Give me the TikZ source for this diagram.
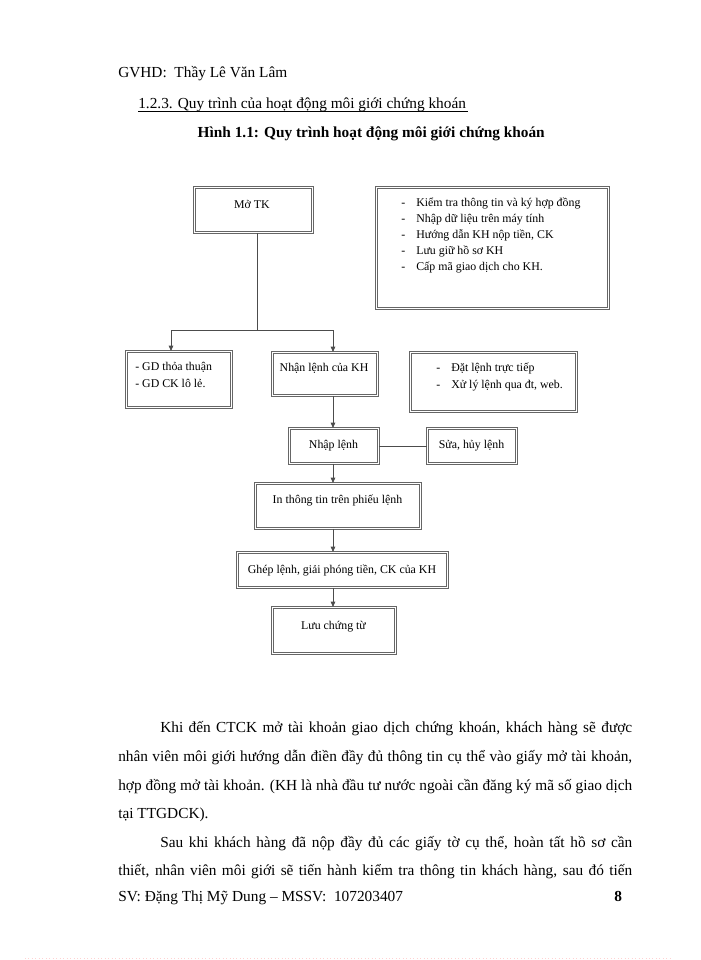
\documentclass[tikz,border=0pt]{standalone}
\usepackage{fontspec}
\setmainfont{Liberation Serif}
\usetikzlibrary{arrows.meta}
\begin{document}
\begin{tikzpicture}[x=0.75pt,y=-0.75pt,
  box/.style={draw=black!60, line width=0.7pt, double=white, double distance=1pt, rectangle, inner sep=0pt, anchor=north west},
  bt/.style={font=\fontsize{8.9}{10}\selectfont, inner sep=0pt, anchor=base},
  btl/.style={font=\fontsize{8.9}{10}\selectfont, inner sep=0pt, anchor=base west},
  body/.style={font=\fontsize{11.5}{14}\selectfont, inner sep=0pt, anchor=base west},
  ln/.style={draw=black!70, line width=0.6pt},
  arr/.style={-{Triangle[length=4pt,width=3.4pt]}}
]
\useasboundingbox (0,0) rectangle (700,960);
% header
\node[body] (h1) at (118,77) {GVHD:\ \ Thầy\ Lê Văn\ Lâm};
\node[body] (h2) at (138,108) {1.2.3. Quy trình của hoạt động môi giới chứng khoán};
\draw[black, line width=0.5pt] ([yshift=-2.4pt]h2.base west) -- ++(330,0);
\node[body, font=\fontsize{11.5}{14}\selectfont\bfseries, anchor=base east] (h3) at (545,137) {Hình 1.1: Quy trình hoạt động môi giới chứng khoán};
% boxes
\node[box, minimum width={118*0.75pt}, minimum height={45*0.75pt}] (motk) at (194,187) {};
\node[box, minimum width={232*0.75pt}, minimum height={121*0.75pt}] (rtop) at (376,187) {};
\node[box, minimum width={105*0.75pt}, minimum height={56*0.75pt}] (gd) at (126,351) {};
\node[box, minimum width={105*0.75pt}, minimum height={43*0.75pt}] (nhan) at (272,352) {};
\node[box, minimum width={166*0.75pt}, minimum height={59*0.75pt}] (rmid) at (410,352) {};
\node[box, minimum width={89*0.75pt}, minimum height={35*0.75pt}] (nhap) at (289,428) {};
\node[box, minimum width={89*0.75pt}, minimum height={35*0.75pt}] (sua) at (427,428) {};
\node[box, minimum width={165*0.75pt}, minimum height={45*0.75pt}] (inb) at (255,483) {};
\node[box, minimum width={210*0.75pt}, minimum height={35*0.75pt}] (ghep) at (237,552) {};
\node[box, minimum width={123*0.75pt}, minimum height={46*0.75pt}] (luu) at (272,607) {};
% box texts
\node[bt] (tmotk) at (252,208) {Mở TK};
\node[btl] (r1) at (401,206) {\makebox[11.25pt][l]{-}Kiểm tra thông tin và ký hợp đồng};
\node[btl] (r2) at (401,222) {\makebox[11.25pt][l]{-}Nhập dữ liệu trên máy tính};
\node[btl] (r3) at (401,238) {\makebox[11.25pt][l]{-}Hướng dẫn KH nộp tiền, CK};
\node[btl] (r4) at (401,254) {\makebox[11.25pt][l]{-}Lưu giữ hồ sơ KH};
\node[btl] (r5) at (401,270) {\makebox[11.25pt][l]{-}Cấp mã giao dịch cho KH.};
\node[btl] (g1) at (135,370) {- GD thỏa thuận};
\node[btl] (g2) at (135,387) {- GD CK lô lẻ.};
\node[bt] (tnhan) at (324,371) {Nhận lệnh của KH};
\node[btl] (m1) at (436,371) {\makebox[11.25pt][l]{-}Đặt lệnh trực tiếp};
\node[btl] (m2) at (436,388) {\makebox[11.25pt][l]{-}Xử lý lệnh qua đt, web.};
\node[bt] (tnhap) at (333.5,448) {Nhập lệnh};
\node[bt] (tsua) at (471.5,448) {Sửa, hủy lệnh};
\node[bt] (tinb) at (337.5,503) {In thông tin trên phiếu lệnh};
\node[bt] (tghep) at (342,573) {Ghép lệnh, giải phóng tiền, CK của KH};
\node[bt] (tluu) at (333.5,629) {Lưu chứng từ};
% connectors
\coordinate (j) at (257,330);
\coordinate (ga) at (171,351);
\coordinate (na) at (333,352);
\draw[ln] (motk.south -| j) -- (j);
\draw[ln,arr] (j) -| (ga);
\draw[ln,arr] (j) -| (na);
\draw[ln,arr] (na |- nhan.south) -- (na |- nhap.north);
\draw[ln] (nhap.east) -- (sua.west);
\draw[ln,arr] (na |- nhap.south) -- (na |- inb.north);
\draw[ln,arr] (na |- inb.south) -- (na |- ghep.north);
\draw[ln,arr] (na |- ghep.south) -- (na |- luu.north);
% body text
\node[body] (p1) at (160,732) {\makebox[354pt][s]{Khi đến CTCK mở tài khoản giao dịch chứng khoán, khách hàng sẽ được}};
\node[body] (p2) at (118,761) {\makebox[385.5pt][s]{nhân viên môi giới hướng dẫn điền đầy đủ thông tin cụ thể vào giấy mở tài khoản,}};
\node[body] (p3) at (118,790) {\makebox[385.5pt][s]{hợp đồng mở tài khoản. (KH là nhà đầu tư nước ngoài cần đăng ký mã số giao dịch}};
\node[body] (p4) at (118,818) {tại TTGDCK).};
\node[body] (p5) at (160,847) {\makebox[354pt][s]{Sau khi khách hàng đã nộp đầy đủ các giấy tờ cụ thể, hoàn tất hồ sơ cần}};
\node[body] (p6) at (118,875) {\makebox[385.5pt][s]{thiết, nhân viên môi giới sẽ tiến hành kiểm tra thông tin khách hàng, sau đó tiến}};
% footer
\node[body] (f1) at (118,901) {SV: Đặng Thị Mỹ Dung -- MSSV:\ \ 107203407};
\node[body, font=\fontsize{11.5}{14}\selectfont\bfseries] (f2) at (614,901) {8};
\draw[pink!70, dotted, line width=0.6pt] (25,958) -- (672,958);
\end{tikzpicture}
\end{document}
